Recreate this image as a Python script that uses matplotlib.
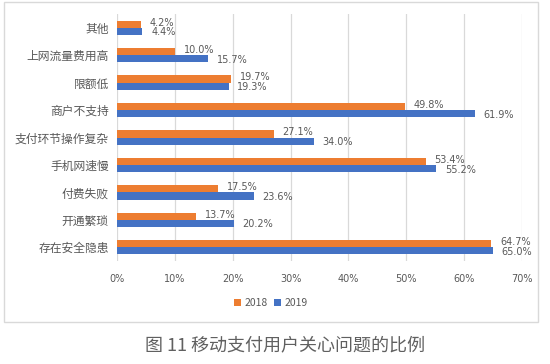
import matplotlib.pyplot as plt
import matplotlib.patches as mpatches
import numpy as np

plt.rcParams['font.family'] = ['Noto Sans CJK SC', 'DejaVu Sans']

# 类别（从上到下）
categories = ['其他', '上网流量费用高', '限额低', '商户不支持', '支付环节操作复杂',
              '手机网速慢', '付费失败', '开通繁琐', '存在安全隐患']
v2018 = [4.2, 10.0, 19.7, 49.8, 27.1, 53.4, 17.5, 13.7, 64.7]
v2019 = [4.4, 15.7, 19.3, 61.9, 34.0, 55.2, 23.6, 20.2, 65.0]
xticks = [0, 10, 20, 30, 40, 50, 60, 70]

c2018 = '#ED7D31'
c2019 = '#4472C4'
txt = '#595959'

fig = plt.figure(figsize=(5.5, 3.64), dpi=100)
ax = fig.add_axes([117/550, 1-261/364, (522-117)/550, (261-14)/364])

y = np.arange(len(categories))
h = 0.26
ax.barh(y - h/2, v2018, height=h, color=c2018, label='2018', zorder=3)
ax.barh(y + h/2, v2019, height=h, color=c2019, label='2019', zorder=3)

# 数据标签
for yi, a, b in zip(y, v2018, v2019):
    ax.text(a + 1.5, yi - h/2 - 0.06, f'{a:.1f}%', va='center', ha='left', fontsize=7, color=txt,
            family='DejaVu Sans')
    ax.text(b + 1.5, yi + h/2 + 0.04, f'{b:.1f}%', va='center', ha='left', fontsize=7, color=txt,
            family='DejaVu Sans')

ax.set_ylim(len(categories) - 0.5, -0.5)
ax.set_yticks(y)
ax.set_yticklabels(categories, fontsize=8.5, color=txt)
ax.set_xlim(0, 70)
ax.set_xticks(xticks)
ax.set_xticklabels([f'{t}%' for t in xticks], fontsize=7, color=txt, family='DejaVu Sans')
ax.tick_params(length=0)
ax.tick_params(axis='x', pad=9)
ax.tick_params(axis='y', pad=6)
ax.grid(axis='x', color='#D9D9D9', linewidth=0.9, zorder=0)
for s in ax.spines.values():
    s.set_visible(False)

fig.legend(loc='center', bbox_to_anchor=(271/550, 1-303/364), ncol=2, frameon=False,
           fontsize=7.5, handlelength=0.7, handleheight=0.7, handletextpad=0.3,
           columnspacing=0.6, labelcolor=txt)

# 外框
fig.patches.append(mpatches.Rectangle((4/550, 1-322/364), (538-4)/550, (322-2)/364,
                                      transform=fig.transFigure, fill=False,
                                      edgecolor='#D9D9D9', linewidth=1))

fig.text(285/550, 1-345/364, '图 11 移动支付用户关心问题的比例', ha='center', va='center',
         fontsize=13, color='#606060')

fig.savefig('out.png', dpi=100)
